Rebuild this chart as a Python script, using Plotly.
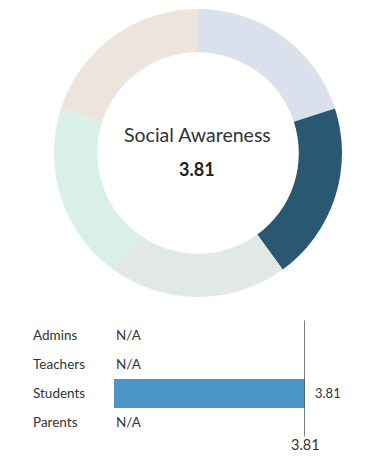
import plotly.graph_objects as go

# Donut data (five equal segments)
segment_names = ["Seg 1", "Seg 2", "Seg 3", "Seg 4", "Seg 5"]
segment_values = [1, 1, 1, 1, 1]
segment_colors = ["#dae1ec", "#2a5873", "#e2e9e5", "#d8efea", "#ede4db"]

title_text = "Social Awareness"
overall_score = 3.81

# Bar data
groups = ["Admins", "Teachers", "Students", "Parents"]
group_scores = [None, None, 3.81, None]
average_score = 3.81

# page body has an 8px margin; figure is sized to fit the window
OFF = 8
W, H = 384 - OFF, 463 - OFF


def px(x):
    return (x - OFF) / W


def py(y):
    return 1 - (y - OFF) / H


FONT = "Lato, Arial, sans-serif"
TXT = "#333333"

fig = go.Figure()

fig.add_trace(go.Pie(
    labels=segment_names,
    values=segment_values,
    marker=dict(colors=segment_colors, line=dict(width=0)),
    hole=0.70,
    sort=False,
    direction="clockwise",
    rotation=0,
    textinfo="none",
    hoverinfo="skip",
    showlegend=False,
    domain=dict(x=[px(54), px(342)], y=[py(297), py(9)]),
))

bar_x = [v if v is not None else 0 for v in group_scores]
fig.add_trace(go.Bar(
    x=bar_x,
    y=groups,
    orientation="h",
    marker=dict(color="#4a94c6", line=dict(width=0)),
    width=0.98,
    xaxis="x",
    yaxis="y",
    hoverinfo="skip",
    showlegend=False,
))

annotations = []
annotations.append(dict(x=px(197), y=py(134), xref="paper", yref="paper",
                        text=title_text, showarrow=False,
                        font=dict(family=FONT, size=19.5, color=TXT),
                        xanchor="center", yanchor="middle"))
annotations.append(dict(x=px(197), y=py(169), xref="paper", yref="paper",
                        text=f"<b>{overall_score:.2f}</b>", showarrow=False,
                        font=dict(family=FONT, size=18, color="#222222"),
                        xanchor="center", yanchor="middle"))

for g, v in zip(groups, group_scores):
    annotations.append(dict(x=px(31), y=g, xref="paper", yref="y", text=g,
                            showarrow=False, xanchor="left", yanchor="middle",
                            font=dict(family=FONT, size=13.5, color=TXT)))
    if v is None:
        annotations.append(dict(x=0, y=g, xref="x", yref="y", text="N/A",
                                showarrow=False, xanchor="left", yanchor="middle",
                                font=dict(family=FONT, size=13.5, color=TXT)))
    else:
        annotations.append(dict(x=v, y=g, xref="x", yref="y", text=f"{v:.2f}",
                                showarrow=False, xanchor="left", yanchor="middle",
                                xshift=8,
                                font=dict(family=FONT, size=13, color=TXT)))

annotations.append(dict(x=average_score, y=py(444), xref="x", yref="paper",
                        text=f"{average_score:.2f}", showarrow=False,
                        xanchor="center", yanchor="middle",
                        font=dict(family=FONT, size=14.5, color=TXT)))

fig.update_layout(
    width=W, height=H,
    margin=dict(l=0, r=0, t=0, b=0),
    paper_bgcolor="white", plot_bgcolor="white",
    bargap=0,
    xaxis=dict(domain=[px(114), px(305)], range=[0, 3.81], visible=False, fixedrange=True),
    yaxis=dict(domain=[py(436.5), py(320.5)], categoryorder="array",
               categoryarray=groups, autorange="reversed", visible=False, fixedrange=True),
    annotations=annotations,
    shapes=[dict(type="line", xref="x", yref="y domain", x0=average_score, x1=average_score,
                 y0=0, y1=1, line=dict(color="#555555", width=1.5))],
)

fig.write_html("out.html")
